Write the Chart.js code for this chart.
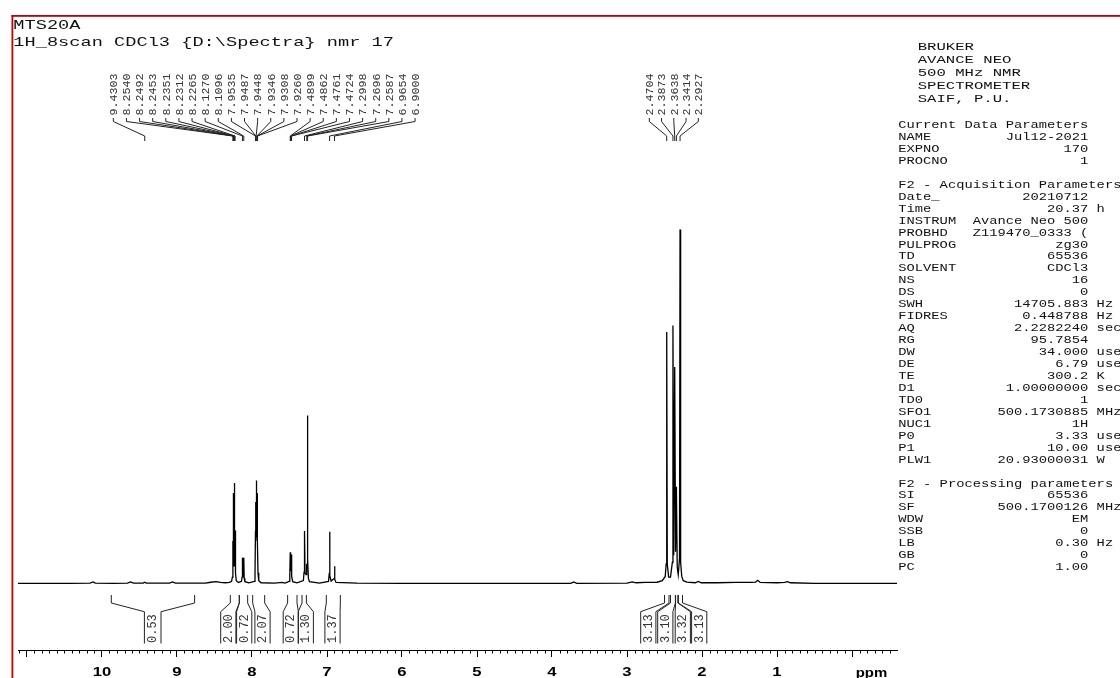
<!DOCTYPE html>
<html>
<head>
<meta charset="utf-8">
<script src="https://cdn.jsdelivr.net/npm/chart.js"></script>
<style>
html, body { margin: 0; padding: 0; background: #fff; }
canvas { display: block; }
</style>
</head>
<body>
<canvas id="nmr" width="1120" height="678"></canvas>
<script>
// spectrum trace: chemical shift (ppm) and relative intensity (tallest = 100)
const tracePpm = [
  11.12, 10.80, 10.45, 10.16, 10.12, 10.09, 9.85, 9.66, 9.62, 9.58, 9.45, 9.4303, 9.41,
  9.10, 9.06, 9.02, 8.62, 8.55, 8.48, 8.42, 8.36, 8.30,
  8.272, 8.262, 8.2555, 8.2540, 8.2515, 8.2492, 8.2472, 8.2453, 8.2400, 8.2365, 8.2351,
  8.2330, 8.2312, 8.2290, 8.2265, 8.2200, 8.2100, 8.1800,
  8.1400, 8.1320, 8.1270, 8.1180, 8.1096, 8.1040, 8.0950, 8.0400,
  7.9700, 7.9600, 7.9535, 7.9510, 7.9487, 7.9465, 7.9448, 7.9400, 7.9346, 7.9325,
  7.9308, 7.9285, 7.9260, 7.9200, 7.9100, 7.8800, 7.70, 7.60, 7.56,
  7.5050, 7.4960, 7.4899, 7.4880, 7.4862, 7.4810, 7.4761, 7.4742, 7.4724, 7.4670, 7.4570, 7.4000,
  7.3150, 7.3060, 7.2998, 7.2930, 7.2800, 7.2730, 7.2696, 7.2650, 7.2620, 7.2587, 7.2550, 7.2480,
  7.2350, 7.1000,
  6.9800, 6.9710, 6.9654, 6.9600, 6.9450, 6.9060, 6.9000, 6.8940, 6.8800, 6.60,
  6.00, 5.20, 4.50, 3.75, 3.71, 3.67, 3.00, 2.93, 2.88, 2.75, 2.60,
  2.5300, 2.4900, 2.4780, 2.4704, 2.4630, 2.4450, 2.4200, 2.3950, 2.3873, 2.3770, 2.3638,
  2.3530, 2.3414, 2.3300, 2.3170, 2.3000, 2.2927, 2.2850, 2.2700, 2.2500, 2.2000,
  2.0900, 2.0500, 2.0100, 1.80, 1.55, 1.35, 1.2850, 1.2550, 1.2250, 1.00, 0.90, 0.86, 0.82,
  0.50, 0.00, -0.60
];
const traceInt = [
  0, 0.05, 0, 0.1, 0.45, 0.1, 0.05, 0.1, 0.45, 0.1, 0.1, 0.35, 0.1,
  0.1, 0.45, 0.1, 0.1, 0.35, 0.5, 0.3, 0.2, 0.3,
  0.6, 1.8, 9, 12, 10, 25.6, 14, 17, 5, 13, 18,
  15, 28.4, 14, 15, 3, 0.8, 0.3,
  0.6, 1.8, 7.3, 1.9, 7.3, 1.5, 0.5, 0.2,
  0.6, 2.5, 15, 12, 23, 19, 29.1, 13, 21, 18,
  25.6, 14, 12, 3, 0.8, 0.2, 0.1, 0.3, 0.1,
  0.6, 2.2, 8.8, 6.5, 8.6, 3.5, 8.2, 6.2, 8.0, 2, 0.5, 0.2,
  0.8, 3.2, 14.8, 3, 2.5, 4.2, 5.6, 4.5, 10, 47.5, 7, 1.5,
  0.5, 0.1,
  0.6, 2.5, 14.6, 2.2, 0.7, 1.4, 4.9, 1.2, 0.3, 0.1,
  0, 0.05, 0, 0.05, 0.45, 0.05, 0.1, 0.45, 0.2, 0.3, 0.35,
  0.8, 2.0, 5.5, 71.1, 5.5, 1.8, 1.8, 6, 72.9, 8, 61.2,
  9, 27.3, 4.5, 2.5, 7, 100, 6, 2, 0.8, 0.4,
  0.2, 0.6, 0.2, 0.2, 0.3, 0.3, 0.4, 0.9, 0.3, 0.2, 0.3, 0.5, 0.2,
  0.05, 0, 0
];

// peak picking labels (two groups)
const peaksAromatic = ['9.4303', '8.2540', '8.2492', '8.2453', '8.2351', '8.2312', '8.2265',
  '8.1270', '8.1096', '7.9535', '7.9487', '7.9448', '7.9346', '7.9308', '7.9260',
  '7.4899', '7.4862', '7.4761', '7.4724', '7.2998', '7.2696', '7.2587', '6.9654', '6.9000'];
const peaksAliphatic = ['2.4704', '2.3873', '2.3638', '2.3414', '2.2927'];

// integrals: ranges in ppm and values
const intFrom = [9.876, 8.289, 8.169, 7.991, 7.525, 7.333, 7.009, 2.50, 2.42, 2.352, 2.315];
const intTo = [8.765, 8.169, 8.058, 7.831, 7.400, 7.275, 6.822, 2.44, 2.355, 2.322, 2.26];
const intValues = ['0.53', '2.00', '0.72', '2.07', '0.72', '1.30', '1.37', '3.13', '3.10', '3.32', '3.13'];

// axis
const majorTicks = [0, 1, 2, 3, 4, 5, 6, 7, 8, 9, 10, 11];
const tickLabels = ['', '1', '2', '3', '4', '5', '6', '7', '8', '9', '10', ''];

// header and parameter text
const titleLines = ['MTS20A', '1H_8scan CDCl3 {D:\\Spectra} nmr 17'];
const brukerLines = ['BRUKER', 'AVANCE NEO', '500 MHz NMR', 'SPECTROMETER', 'SAIF, P.U.'];
const paramLines = [
  ['Current Data Parameters'],
  ['NAME', 'Jul12-2021'], ['EXPNO', '170'], ['PROCNO', '1'],
  [''],
  ['F2 - Acquisition Parameters'],
  ['Date_', '20210712'], ['Time', '20.37', 'h'], ['INSTRUM', 'Avance Neo 500'],
  ['PROBHD', 'Z119470_0333 ('], ['PULPROG', 'zg30'], ['TD', '65536'], ['SOLVENT', 'CDCl3'],
  ['NS', '16'], ['DS', '0'], ['SWH', '14705.883', 'Hz'], ['FIDRES', '0.448788', 'Hz'],
  ['AQ', '2.2282240', 'sec'], ['RG', '95.7854'], ['DW', '34.000', 'usec'], ['DE', '6.79', 'usec'],
  ['TE', '300.2', 'K'], ['D1', '1.00000000', 'sec'], ['TD0', '1'], ['SFO1', '500.1730885', 'MHz'],
  ['NUC1', '1H'], ['P0', '3.33', 'usec'], ['P1', '10.00', 'usec'], ['PLW1', '20.93000031', 'W'],
  [''],
  ['F2 - Processing parameters'],
  ['SI', '65536'], ['SF', '500.1700126', 'MHz'], ['WDW', 'EM'], ['SSB', '0'],
  ['LB', '0.30', 'Hz'], ['GB', '0'], ['PC', '1.00']
];

// layout (pixels)
const peakLabelCenters = [264.2, 673.8];
const peakLabelSpacing = [13.12, 12.25];
const intLabelX = [152.7, 228.3, 244.2, 262.5, 290.8, 305.8, 332.5, 648.3, 665.3, 682.8, 699.2];

const MONO = '"Liberation Mono", "DejaVu Sans Mono", monospace';

function stretchText(ctx, txt, x, y, sx, align) {
    ctx.save();
    ctx.translate(x, y);
    ctx.scale(sx, 1);
    ctx.textAlign = align || 'left';
    ctx.textBaseline = 'alphabetic';
    ctx.fillText(txt, 0, 0);
    ctx.restore();
}

function upText(ctx, txt, x, yBottom) {
    ctx.save();
    ctx.translate(x, yBottom);
    ctx.rotate(-Math.PI / 2);
    ctx.textAlign = 'left';
    ctx.textBaseline = 'alphabetic';
    ctx.fillText(txt, 0, 0);
    ctx.restore();
}

const nmrDecor = {
    id: 'nmrDecor',
    afterDraw(chart) {
        const ctx = chart.ctx;
        const xs = chart.scales.x;
        const area = chart.chartArea;
        const axisY = area.bottom;
        ctx.save();

        // minor ticks every 0.1 ppm
        ctx.strokeStyle = '#000';
        ctx.lineWidth = 1;
        ctx.beginPath();
        for (let k = -6; k <= 112; k++) {
            if (k % 10 === 0) continue;
            const px = Math.round(xs.getPixelForValue(k / 10)) + 0.5;
            if (px < area.left || px > area.right) continue;
            ctx.moveTo(px, axisY);
            ctx.lineTo(px, axisY + 3.5);
        }
        ctx.stroke();

        // tick labels
        ctx.fillStyle = '#000';
        ctx.font = 'bold 13px "Liberation Sans", Arial, sans-serif';
        majorTicks.forEach((v, i) => {
            if (!tickLabels[i]) return;
            stretchText(ctx, tickLabels[i], xs.getPixelForValue(v), 676, 1.28, 'center');
        });
        stretchText(ctx, 'ppm', 871.5, 676.5, 1.15, 'center');

        // peak labels with connectors
        ctx.fillStyle = '#333';
        ctx.strokeStyle = '#222';
        ctx.font = '11.7px ' + MONO;
        [peaksAromatic, peaksAliphatic].forEach((labels, g) => {
            const n = labels.length;
            labels.forEach((lab, i) => {
                const lx = peakLabelCenters[g] + (i - (n - 1) / 2) * peakLabelSpacing[g];
                const px = xs.getPixelForValue(parseFloat(lab));
                upText(ctx, lab, lx + 3.8, 115.5);
                ctx.beginPath();
                ctx.moveTo(lx, 118);
                ctx.lineTo(lx, 121.5);
                ctx.lineTo(px, 136);
                ctx.lineTo(px, 141);
                ctx.stroke();
            });
        });

        // integrals
        ctx.font = '12px ' + MONO;
        intValues.forEach((val, i) => {
            const x1 = xs.getPixelForValue(intFrom[i]);
            const x2 = xs.getPixelForValue(intTo[i]);
            const hw = i === 0 ? 8.3 : 7.6;
            const bl = intLabelX[i] - hw;
            const br = intLabelX[i] + hw;
            ctx.beginPath();
            ctx.moveTo(x1, 595); ctx.lineTo(x1, 603); ctx.lineTo(bl, 611.7); ctx.lineTo(bl, 643.5);
            ctx.moveTo(x2, 595); ctx.lineTo(x2, 603); ctx.lineTo(br, 611.7); ctx.lineTo(br, 643.5);
            ctx.stroke();
            upText(ctx, val, intLabelX[i] + 3.6, 643);
        });

        // title
        ctx.fillStyle = '#111';
        ctx.font = '13px ' + MONO;
        titleLines.forEach((t, i) => stretchText(ctx, t, 13.3, 29 + i * 16.7, 1.435));

        // spectrometer block
        ctx.font = '11px ' + MONO;
        brukerLines.forEach((t, i) => stretchText(ctx, t, 917.7, 50 + i * 12.95, 1.42));

        // parameters
        ctx.font = '10px ' + MONO;
        paramLines.forEach((p, i) => {
            let line;
            if (p.length === 1) line = p[0];
            else line = p[0].padEnd(9) + p[1].padStart(14) + (p[2] ? ' ' + p[2] : '');
            stretchText(ctx, line, 898.3, 128 + i * 11.95, 1.377);
        });

        // red frame
        ctx.fillStyle = '#c00000';
        ctx.fillRect(11.5, 15, 1110, 1.8);
        ctx.fillRect(11.5, 15, 1.8, 663);
        ctx.restore();
    }
};

const pts = tracePpm.map((p, i) => ({ x: p, y: traceInt[i] }));

new Chart(document.getElementById('nmr'), {
    type: 'line',
    data: {
        datasets: [{
            data: pts,
            borderColor: '#000',
            borderWidth: 1.3,
            pointRadius: 0,
            tension: 0,
            fill: false
        }]
    },
    options: {
        responsive: false,
        animation: false,
        devicePixelRatio: 1,
        layout: { padding: { left: 18, right: 223, top: 150, bottom: 0 } },
        plugins: { legend: { display: false }, tooltip: { enabled: false } },
        scales: {
            x: {
                type: 'linear',
                reverse: true,
                min: -0.6,
                max: 11.12,
                afterBuildTicks: s => { s.ticks = majorTicks.map(v => ({ value: v })); },
                afterFit: s => { s.height = 28; },
                border: { display: true, color: '#000', width: 1 },
                grid: { display: true, drawOnChartArea: false, drawTicks: true, tickLength: 7, color: '#000', tickColor: '#000' },
                ticks: { display: false }
            },
            y: {
                display: false,
                min: -18.8,
                max: 122.5
            }
        }
    },
    plugins: [nmrDecor]
});
</script>
</body>
</html>
